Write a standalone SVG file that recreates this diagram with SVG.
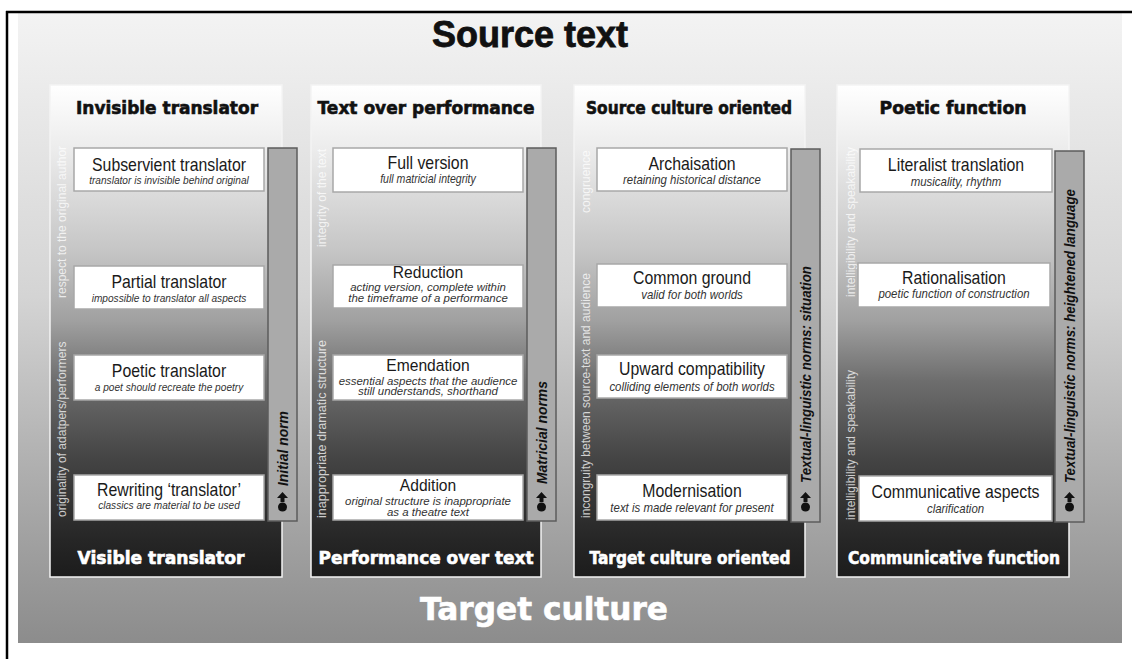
<svg xmlns="http://www.w3.org/2000/svg" width="1132" height="659" viewBox="0 0 1132 659">
<defs>
<linearGradient id="bg" x1="0" y1="0" x2="0" y2="1">
<stop offset="0" stop-color="#f3f3f3"/>
<stop offset="0.45" stop-color="#d4d4d4"/>
<stop offset="0.7" stop-color="#b2b2b2"/>
<stop offset="1" stop-color="#8c8c8c"/>
</linearGradient>
<linearGradient id="col" gradientUnits="userSpaceOnUse" x1="0" y1="85" x2="0" y2="577">
<stop offset="0" stop-color="#ffffff"/>
<stop offset="0.13" stop-color="#ececec"/>
<stop offset="0.335" stop-color="#c6c6c6"/>
<stop offset="0.48" stop-color="#a0a0a0"/>
<stop offset="0.6" stop-color="#6e6e6e"/>
<stop offset="0.76" stop-color="#444444"/>
<stop offset="0.925" stop-color="#262626"/>
<stop offset="1" stop-color="#1c1c1c"/>
</linearGradient>
<g id="nib">
<polygon points="0,-11 5.5,-5 2,-5 2,-1 -2,-1 -2,-5 -5.5,-5" fill="#111"/>
<circle cx="0" cy="4" r="4.5" fill="#111"/>
</g>
</defs>
<style>
.col{fill:url(#col);stroke:#f4f4f4;stroke-width:1.5}
.bar{fill:#aaaaaa;stroke:#5c5c5c;stroke-width:1.5}
.box{fill:#ffffff;stroke:#a8a8a8;stroke-width:1.5}
.t{font-family:"Liberation Sans",Arial,sans-serif;font-size:18px;fill:#1a1a1a;text-anchor:middle}
.t2{font-size:17px}
.s{font-family:"Liberation Sans",Arial,sans-serif;font-style:italic;font-size:11.5px;fill:#333;text-anchor:middle}
.s13{font-size:13px}
.s12{font-size:12px}
.s2{font-size:11px}
.h{font-family:"DejaVu Sans",Verdana,sans-serif;font-weight:bold;font-size:17px;fill:#111;stroke:#111;stroke-width:0.6;text-anchor:middle}
.f{font-family:"DejaVu Sans",Verdana,sans-serif;font-weight:bold;font-size:17px;fill:#fff;stroke:#fff;stroke-width:0.6;text-anchor:middle}
.lab{font-family:"Liberation Sans",Arial,sans-serif;font-size:12px;fill:#fff;fill-opacity:0.75}
.norm{font-family:"Liberation Sans",Arial,sans-serif;font-style:italic;font-weight:bold;font-size:15px;fill:#111}
</style>
<rect x="0" y="0" width="1132" height="659" fill="#fff"/>
<rect x="18" y="13" width="1104" height="630" fill="url(#bg)"/>
<line x1="6" y1="12" x2="1132" y2="12" stroke="#000" stroke-width="2.5"/>
<line x1="7" y1="11" x2="7" y2="659" stroke="#000" stroke-width="2.5"/>
<text x="530" y="47" font-family="Liberation Sans, Arial, sans-serif" font-weight="bold" font-size="36" fill="#111" stroke="#111" stroke-width="0.8" text-anchor="middle">Source text</text>
<text x="420" y="620" font-family="DejaVu Sans, Verdana, sans-serif" font-weight="bold" font-size="32" fill="#fff" stroke="#fff" stroke-width="0.6" textLength="248" lengthAdjust="spacingAndGlyphs">Target culture</text>

<g id="col-translator">
<rect class="col" x="50" y="85" width="232" height="492"/>
<text class="h" x="167" y="114" textLength="182" lengthAdjust="spacingAndGlyphs">Invisible translator</text>
<text class="f" x="161" y="564" textLength="167" lengthAdjust="spacingAndGlyphs">Visible translator</text>
<text class="lab" transform="translate(66 298) rotate(-90)">respect to the original author</text>
<text class="lab" transform="translate(66 517) rotate(-90)">originality of adatpers/performers</text>
<rect class="bar" x="268" y="148" width="29" height="373"/>
<use href="#nib" x="282.5" y="503"/>
<text class="norm" transform="translate(288 486) rotate(-90)" textLength="75" lengthAdjust="spacingAndGlyphs">Initial norm</text>
<g id="n-subservient"><rect class="box" x="74" y="148" width="190" height="43"/>
<text class="t" transform="translate(169 171) scale(.88 1)">Subservient translator</text>
<text class="s" transform="translate(169 184) scale(.88 1)">translator is invisible behind original</text></g>
<g id="n-partial"><rect class="box" x="74" y="266" width="190" height="43"/>
<text class="t" transform="translate(169 288) scale(.88 1)">Partial translator</text>
<text class="s" transform="translate(169 302) scale(.88 1)">impossible to translator all aspects</text></g>
<g id="n-poetic"><rect class="box" x="74" y="355" width="190" height="45"/>
<text class="t" transform="translate(169 377) scale(.88 1)">Poetic translator</text>
<text class="s" transform="translate(169 391) scale(.88 1)">a poet should recreate the poetry</text></g>
<g id="n-rewriting"><rect class="box" x="74" y="475" width="190" height="45"/>
<text class="t" transform="translate(169 496) scale(.88 1)">Rewriting ‘translator’</text>
<text class="s" transform="translate(169 509) scale(.88 1)">classics are material to be used</text></g>
</g>

<g id="col-text">
<rect class="col" x="311" y="85" width="230" height="492"/>
<text class="h" x="426" y="114" textLength="217" lengthAdjust="spacingAndGlyphs">Text over performance</text>
<text class="f" x="426" y="564" textLength="215" lengthAdjust="spacingAndGlyphs">Performance over text</text>
<text class="lab" transform="translate(326 247) rotate(-90)">integrity of the text</text>
<text class="lab" transform="translate(326 518) rotate(-90)" textLength="178" lengthAdjust="spacingAndGlyphs">inappropriate dramatic structure</text>
<rect class="bar" x="527" y="148" width="29" height="373"/>
<use href="#nib" x="541.5" y="503"/>
<text class="norm" transform="translate(547 484) rotate(-90)" textLength="103" lengthAdjust="spacingAndGlyphs">Matricial norms</text>
<g id="n-full"><rect class="box" x="333" y="148" width="190" height="44"/>
<text class="t" transform="translate(428 169) scale(.88 1)">Full version</text>
<text class="s s12" transform="translate(428 183) scale(.88 1)">full matricial integrity</text></g>
<g id="n-reduction"><rect class="box" x="333" y="265" width="190" height="43"/>
<text class="t t2" transform="translate(428 278) scale(.92 1)">Reduction</text>
<text class="s s2" transform="translate(428 291) scale(1.04 1)"><tspan x="0" y="0">acting version, complete within</tspan><tspan x="0" y="11">the timeframe of a performance</tspan></text></g>
<g id="n-emendation"><rect class="box" x="333" y="355" width="190" height="45"/>
<text class="t t2" transform="translate(428 371) scale(.92 1)">Emendation</text>
<text class="s s2" transform="translate(428 384.5) scale(1.04 1)"><tspan x="0" y="0">essential aspects that the audience</tspan><tspan x="0" y="11">still understands, shorthand</tspan></text></g>
<g id="n-addition"><rect class="box" x="333" y="475" width="190" height="45"/>
<text class="t t2" transform="translate(428 491) scale(.92 1)">Addition</text>
<text class="s s2" transform="translate(428 505) scale(1.04 1)"><tspan x="0" y="0">original structure is inappropriate</tspan><tspan x="0" y="11">as a theatre text</tspan></text></g>
</g>

<g id="col-culture">
<rect class="col" x="574" y="85" width="231" height="492"/>
<text class="h" x="689" y="114" textLength="206" lengthAdjust="spacingAndGlyphs">Source culture oriented</text>
<text class="f" x="690" y="564" textLength="201" lengthAdjust="spacingAndGlyphs">Target culture oriented</text>
<text class="lab" transform="translate(590 213) rotate(-90)">congruence</text>
<text class="lab" transform="translate(590 518) rotate(-90)">incongruity between source-text and audience</text>
<rect class="bar" x="791" y="149" width="29" height="373"/>
<use href="#nib" x="805.5" y="503"/>
<text class="norm" transform="translate(811 483) rotate(-90)" textLength="217" lengthAdjust="spacingAndGlyphs">Textual-linguistic norms: situation</text>
<g id="n-archaisation"><rect class="box" x="597" y="148" width="190" height="43"/>
<text class="t" transform="translate(692 170) scale(.88 1)">Archaisation</text>
<text class="s s13" transform="translate(692 184) scale(.88 1)">retaining historical distance</text></g>
<g id="n-common"><rect class="box" x="597" y="264" width="190" height="43"/>
<text class="t" transform="translate(692 284) scale(.88 1)">Common ground</text>
<text class="s s13" transform="translate(692 299) scale(.88 1)">valid for both worlds</text></g>
<g id="n-upward"><rect class="box" x="597" y="355" width="190" height="43"/>
<text class="t" transform="translate(692 375) scale(.88 1)">Upward compatibility</text>
<text class="s s13" transform="translate(692 391) scale(.88 1)">colliding elements of both worlds</text></g>
<g id="n-modernisation"><rect class="box" x="597" y="475" width="190" height="45"/>
<text class="t" transform="translate(692 497) scale(.88 1)">Modernisation</text>
<text class="s s13" transform="translate(692 512) scale(.88 1)">text is made relevant for present</text></g>
</g>

<g id="col-function">
<rect class="col" x="837" y="85" width="232" height="492"/>
<text class="h" x="953" y="114" textLength="147" lengthAdjust="spacingAndGlyphs">Poetic function</text>
<text class="f" x="954" y="564" textLength="212" lengthAdjust="spacingAndGlyphs">Communicative function</text>
<text class="lab" transform="translate(855 297) rotate(-90)">intelligibility and speakability</text>
<text class="lab" transform="translate(855 520) rotate(-90)">intelligibility and speakability</text>
<rect class="bar" x="1055" y="151" width="29" height="371"/>
<use href="#nib" x="1069.5" y="503"/>
<text class="norm" transform="translate(1075 483) rotate(-90)" textLength="294" lengthAdjust="spacingAndGlyphs">Textual-linguistic norms: heightened language</text>
<g id="n-literalist"><rect class="box" x="860" y="149" width="192" height="43"/>
<text class="t" transform="translate(956 171) scale(.88 1)">Literalist translation</text>
<text class="s s13" transform="translate(956 186) scale(.88 1)">musicality, rhythm</text></g>
<g id="n-rationalisation"><rect class="box" x="858" y="263" width="192" height="44"/>
<text class="t" transform="translate(954 284) scale(.88 1)">Rationalisation</text>
<text class="s s13" transform="translate(954 298) scale(.88 1)">poetic function of construction</text></g>
<g id="n-communicative"><rect class="box" x="859" y="476" width="193" height="45"/>
<text class="t" transform="translate(955.5 498) scale(.88 1)">Communicative aspects</text>
<text class="s s13" transform="translate(955.5 513) scale(.88 1)">clarification</text></g>
</g>
<g id="connectors"/>
</svg>
